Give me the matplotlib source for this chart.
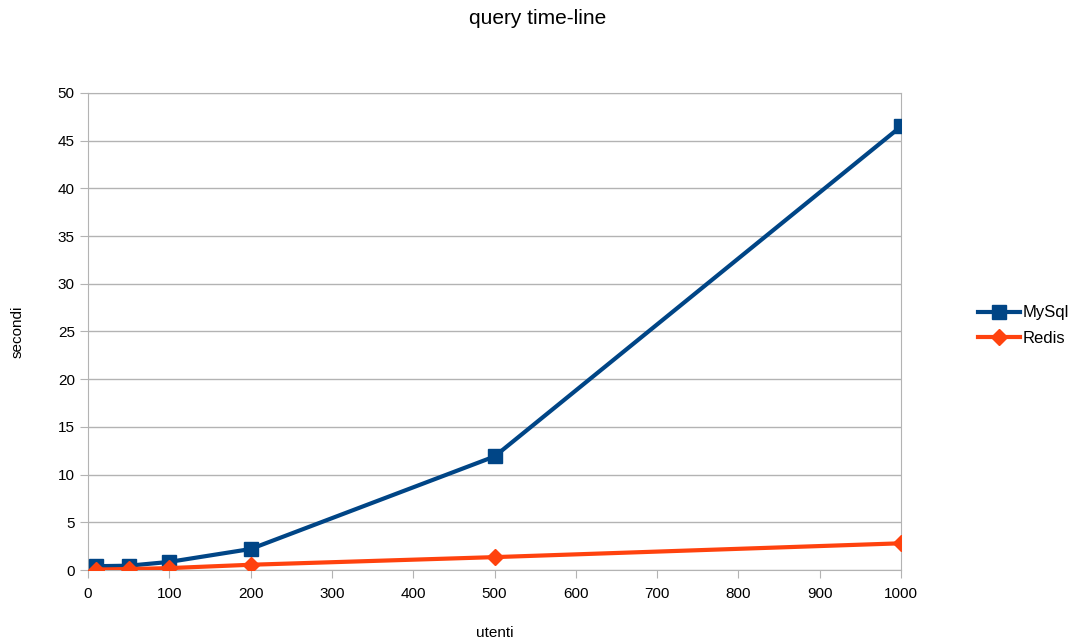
import matplotlib.pyplot as plt

# ─── DATA ────────────────────────────────────────────────────────────────────
utenti = [10, 50, 100, 200, 500, 1000]
mysql  = [0.4, 0.45, 0.85, 2.2, 11.9, 46.5]
redis  = [0.05, 0.1, 0.2, 0.55, 1.35, 2.8]

plt.rcParams['font.family'] = ['Liberation Sans', 'DejaVu Sans']

fig = plt.figure(figsize=(10.76, 6.44), dpi=100)
ax = fig.add_axes([0.0818, 0.1149, 0.7556, 0.7407])

ax.plot(utenti, mysql, color='#004586', lw=3, marker='s', ms=10,
        label='MySql', zorder=3)
ax.plot(utenti, redis, color='#ff420e', lw=3, marker='D', ms=8,
        label='Redis', zorder=3)

ax.set_xlim(0, 1000)
ax.set_ylim(0, 50)
ax.set_xticks(range(0, 1001, 100))
ax.set_yticks(range(0, 51, 5))
ax.grid(axis='y', color='#b3b3b3', lw=1)
ax.set_axisbelow(True)
for s in ax.spines.values():
    s.set_color('#b3b3b3')
ax.tick_params(colors='#b3b3b3', labelcolor='black', labelsize=11, length=6)
ax.tick_params(axis='x', pad=6)

ax.set_xlabel('utenti', fontsize=11, labelpad=18)
ax.set_ylabel('secondi', fontsize=11, labelpad=24)
fig.text(0.5, 0.972, 'query time-line', ha='center', va='center', fontsize=15)

fig.legend(loc='center left', bbox_to_anchor=(0.895, 0.494), frameon=False,
           fontsize=12, handlelength=2.5, handletextpad=0.2, labelspacing=0.65)

fig.savefig('out.png', dpi=100)
